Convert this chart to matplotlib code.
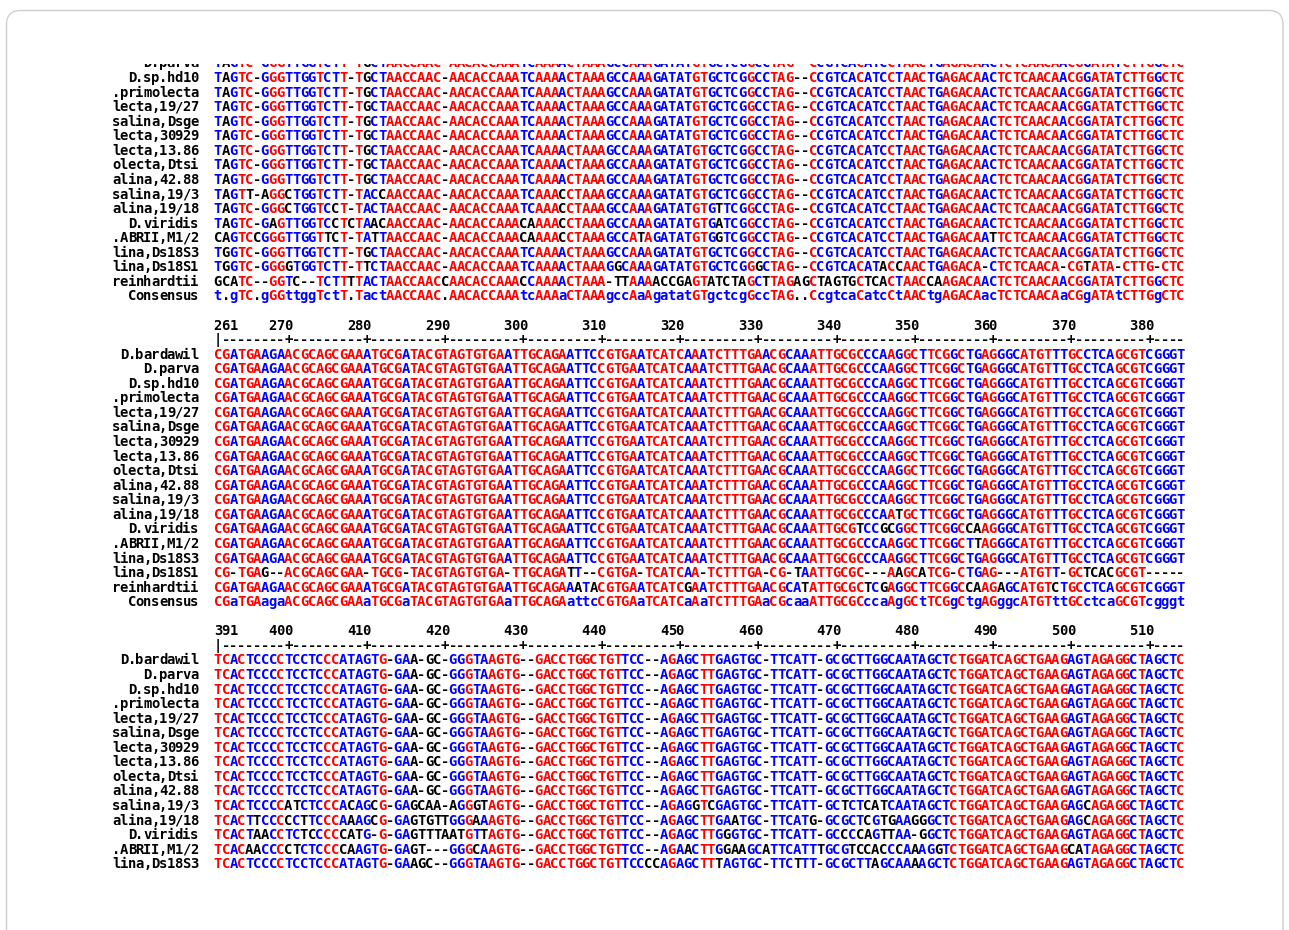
import matplotlib
matplotlib.use("Agg")
import matplotlib.pyplot as plt
from matplotlib.patches import FancyBboxPatch
from matplotlib.transforms import Bbox

# ------------------------------------------------------------------ data
seq_names = ["D.bardawil", "D.parva", "D.sp.hd10", ".primolecta", "lecta,19/27",
             "salina,Dsge", "lecta,30929", "lecta,13.86", "olecta,Dtsi",
             "alina,42.88", "salina,19/3", "alina,19/18", "D.viridis",
             ".ABRII,M1/2", "lina,Ds18S3", "lina,Ds18S1", "reinhardtii"]
consensus_label = "Consensus"

# ---- block 1 (top of block is cut off; rows from D.parva on are visible)
b1_common = ("TAGTC-GGGTTGGTCTT-TGCTAACCAAC-AACACCAAATC"
             "AAAACTAAAGCCAAAGATATGTGCTCGGCCTAG--CCGTCACA"
             "TCCTAACTGAGACAACTCTCAACAACGGATATCTTGGCTC")
block1_seqs = {
    "D.parva": b1_common,
    "D.sp.hd10": b1_common,
    ".primolecta": b1_common,
    "lecta,19/27": b1_common,
    "salina,Dsge": b1_common,
    "lecta,30929": b1_common,
    "lecta,13.86": b1_common,
    "olecta,Dtsi": b1_common,
    "alina,42.88": b1_common,
    "salina,19/3": ("TAGTT-AGGCTGGTCTT-TACCAACCAAC-AACACCAAATC"
                    "AAACCTAAAGCCAAAGATATGTGCTCGGCCTAG--CCGTCACA"
                    "TCCTAACTGAGACAACTCTCAACAACGGATATCTTGGCTC"),
    "alina,19/18": ("TAGTC-GGGCTGGTCCT-TACTAACCAAC-AACACCAAATC"
                    "AAACCTAAAGCCAAAGATATGTGTTCGGCCTAG--CCGTCACA"
                    "TCCTAACTGAGACAACTCTCAACAACGGATATCTTGGCTC"),
    "D.viridis": ("TAGTC-GAGTTGGTCCTCTAACAACCAAC-AACACCAAACA"
                  "AAACCTAAAGCCAAAGATATGTGATCGGCCTAG--CCGTCACA"
                  "TCCTAACTGAGACAACTCTCAACAACGGATATCTTGGCTC"),
    ".ABRII,M1/2": ("CAGTCCGGGTTGGTTCT-TATTAACCAAC-AACACCAAACA"
                    "AAACCTAAAGCCATAGATATGTGGTCGGCCTAG--CCGTCACA"
                    "TCCTAACTGAGACAATTCTCAACAACGGATATCTTGGCTC"),
    "lina,Ds18S3": ("TGGTC-GGGTTGGTCTT-TGCTAACCAAC-AACACCAAATC"
                    "AAAACTAAAGCCAAAGATATGTGCTCGGCCTAG--CCGTCACA"
                    "TCCTAACTGAGACAACTCTCAACAACGGATATCTTGGCTC"),
    "lina,Ds18S1": ("TGGTC-GGGGTGGTCTT-TTCTAACCAAC-AACACCAAATC"
                    "AAAACTAAAGGCAAAGATATGTGCTCGGGCTAG--CCGTCACA"
                    "TACCAACTGAGACA-CTCTCAACA-CGTATA-CTTG-CTC"),
    "reinhardtii": ("GCATC--GGTC--TCTTTTACTAACCAACCAACACCAAACC"
                    "AAAACTAAA-TTAAAACCGAGTATCTAGCTTAGAGCTAGTGCT"
                    "CACTAACCAAGACAACTCTCAACAACGGATATCTTGGCTC"),
}
block1_consensus = ("t.gTC.gGGttggTctT.TactAACCAAC.AACACCAAAtc"
                    "AAAaCTAAAgccAaAgatatGTgctcgGccTAG..CcgtcaCa"
                    "tcCtAACtgAGACAacTCTCAACAaCGgATAtCTTGgCTC")

# ---- block 2
block2_ticks = [261, 270, 280, 290, 300, 310, 320, 330, 340, 350, 360, 370, 380]
b2_common = ("CGATGAAGAACGCAGCGAAATGCGATACGTAGTGTGAATTG"
             "CAGAATTCCGTGAATCATCAAATCTTTGAACGCAAATTGCGCC"
             "CAAGGCTTCGGCTGAGGGCATGTTTGCCTCAGCGTCGGGT")
block2_seqs = {
    "D.bardawil": b2_common,
    "D.parva": b2_common,
    "D.sp.hd10": b2_common,
    ".primolecta": b2_common,
    "lecta,19/27": b2_common,
    "salina,Dsge": b2_common,
    "lecta,30929": b2_common,
    "lecta,13.86": b2_common,
    "olecta,Dtsi": b2_common,
    "alina,42.88": b2_common,
    "salina,19/3": b2_common,
    "alina,19/18": ("CGATGAAGAACGCAGCGAAATGCGATACGTAGTGTGAATTG"
                    "CAGAATTCCGTGAATCATCAAATCTTTGAACGCAAATTGCGCC"
                    "CAATGCTTCGGCTGAGGGCATGTTTGCCTCAGCGTCGGGT"),
    "D.viridis": ("CGATGAAGAACGCAGCGAAATGCGATACGTAGTGTGAATTG"
                  "CAGAATTCCGTGAATCATCAAATCTTTGAACGCAAATTGCGTC"
                  "CGCGGCTTCGGCCAAGGGCATGTTTGCCTCAGCGTCGGGT"),
    ".ABRII,M1/2": ("CGATGAAGAACGCAGCGAAATGCGATACGTAGTGTGAATTG"
                    "CAGAATTCCGTGAATCATCAAATCTTTGAACGCAAATTGCGCC"
                    "CAAGGCTTCGGCTTAGGGCATGTTTGCCTCAGCGTCGGGT"),
    "lina,Ds18S3": b2_common,
    "lina,Ds18S1": ("CG-TGAG--ACGCAGCGAA-TGCG-TACGTAGTGTGA-TTG"
                    "CAGATT--CGTGA-TCATCAA-TCTTTGA-CG-TAATTGCGC-"
                    "--AAGCATCG-CTGAG---ATGTT-GCTCACGCGT-----"),
    "reinhardtii": ("CGATGAAGAACGCAGCGAAATGCGATACGTAGTGTGAATTG"
                    "CAGAAATACGTGAATCATCGAATCTTTGAACGCATATTGCGCT"
                    "CGAGGCTTCGGCCAAGAGCATGTCTGCCTCAGCGTCGGGT"),
}
block2_consensus = ("CGaTGAagaACGCAGCGAAaTGCGaTACGTAGTGTGAaTTG"
                    "CAGAattcCGTGAaTCATCaAaTCTTTGAaCGcaaATTGCGCc"
                    "caAgGCtTCGgCtgAGggcATGTttGCctcaGCGTcgggt")

# ---- block 3 (bottom of block is cut off after lina,Ds18S3)
block3_ticks = [391, 400, 410, 420, 430, 440, 450, 460, 470, 480, 490, 500, 510]
b3_common = ("TCACTCCCCTCCTCCCATAGTG-GAA-GC-GGGTAAGTG--"
             "GACCTGGCTGTTCC--AGAGCTTGAGTGC-TTCATT-GCGCTT"
             "GGCAATAGCTCTGGATCAGCTGAAGAGTAGAGGCTAGCTC")
block3_seqs = {
    "D.bardawil": b3_common,
    "D.parva": b3_common,
    "D.sp.hd10": b3_common,
    ".primolecta": b3_common,
    "lecta,19/27": b3_common,
    "salina,Dsge": b3_common,
    "lecta,30929": b3_common,
    "lecta,13.86": b3_common,
    "olecta,Dtsi": b3_common,
    "alina,42.88": b3_common,
    "salina,19/3": ("TCACTCCCCATCTCCCACAGCG-GAGCAA-AGGGTAGTG--"
                    "GACCTGGCTGTTCC--AGAGGTCGAGTGC-TTCATT-GCTCTC"
                    "ATCAATAGCTCTGGATCAGCTGAAGAGCAGAGGCTAGCTC"),
    "alina,19/18": ("TCACTTCCCCCTTCCCAAAGCG-GAGTGTTGGGAAAGTG--"
                    "GACCTGGCTGTTCC--AGAGCTTGAATGC-TTCATG-GCGCTC"
                    "GTGAAGGGCTCTGGATCAGCTGAAGAGCAGAGGCTAGCTC"),
    "D.viridis": ("TCACTAACCTCTCCCCCATG-G-GAGTTTAATGTTAGTG--"
                  "GACCTGGCTGTTCC--AGAGCTTGGGTGC-TTCATT-GCCCCA"
                  "GTTAA-GGCTCTGGATCAGCTGAAGAGTAGAGGCTAGCTC"),
    ".ABRII,M1/2": ("TCACAACCCCTCTCCCCAAGTG-GAGT---GGGCAAGTG--"
                    "GACCTGGCTGTTCC--AGAACTTGGAAGCATTCATTTGCGTCC"
                    "ACCCAAAGGTCTGGATCAGCTGAAGCATAGAGGCTAGCTC"),
    "lina,Ds18S3": ("TCACTCCCCTCCTCCCATAGTG-GAAGC--GGGTAAGTG--"
                    "GACCTGGCTGTTCCCCAGAGCTTTAGTGC-TTCTTT-GCGCTT"
                    "AGCAAAAGCTCTGGATCAGCTGAAGAGTAGAGGCTAGCTC"),
}
# consensus of block 3 lies below the visible area; it only sets the colours
block3_consensus = ("TCaCtcccCtcctcCCatagtG.ga.....ggGtaAGTG.."
                    "GACCTGGCTGTtcc..aGagcTTgagtgc.ttcatt.gcgctt"
                    "ggcaatagctCTGGATCAGCTGAAGagtAGAGGcTagctC")

# ------------------------------------------------------------------ layout / style
W, H = 1289, 930
X0 = 214.0          # left edge of alignment column 1 (px)
PITCH = 7.827       # character pitch (px)
Y0 = 18.76          # centre of first text line of block 1 (px)
LINE = 14.56        # line pitch (px)
FS = 10.0           # font size (pt)
CAP_HALF = 5.05     # half cap height (px)
RED, BLUE, BLACK = "#ff0000", "#0000ff", "#000000"
FONT = dict(family="DejaVu Sans Mono", weight="bold", size=FS)
NCOL = 124

fig = plt.figure(figsize=(W / 100, H / 100), dpi=100)
ax = fig.add_axes([0, 0, 1, 1])
ax.set_xlim(0, W)
ax.set_ylim(H, 0)
ax.axis("off")

frame = FancyBboxPatch((6.5, 10.5), 1276.5, 960, boxstyle="round,pad=0,rounding_size=14",
                       ec="#cfcfcf", fc="white", lw=1.0, zorder=0)
ax.add_patch(frame)

# visible window of the alignment picture, in display pixels (origin bottom-left)
visible = Bbox([[0, H - 872.0], [W, H - 63.5]])


def put_chars(col0, line, s, colours):
    """Draw string s one character per alignment cell, starting at 0-based column col0."""
    y = Y0 + line * LINE + CAP_HALF
    for i, ch in enumerate(s):
        if ch == " ":
            continue
        x = X0 + (col0 + i + 0.5) * PITCH
        t = ax.text(x, y, ch, color=colours[i], ha="center", va="baseline",
                    zorder=2, **FONT)
        t.set_clip_path(None)
        t.set_clip_box(visible)
        t.set_clip_on(True)


def colour(ch, cons):
    if cons == "." or ch.upper() != cons.upper():
        return BLACK
    return RED if cons.isupper() else BLUE


def cons_colour(ch):
    if ch.isalpha():
        return RED if ch.isupper() else BLUE
    return BLACK


def put_plain(col0, line, s):
    put_chars(col0, line, s, [BLACK] * len(s))


def put_name(line, name):
    put_plain(-2 - len(name), line, name)


def draw_block(first_line, seqs, consensus, ticks, show_consensus):
    if ticks is not None:
        put_plain(0, first_line, str(ticks[0]))
        for v in ticks[1:]:
            c = v - ticks[0] + 1           # 1-based column of this position
            put_plain(c - len(str(v)), first_line, str(v))
        rule = "".join("|" if c == 1 else ("+" if c % 10 == 0 else "-")
                       for c in range(1, NCOL + 1))
        put_plain(0, first_line + 1, rule)
    for idx, name in enumerate(seq_names):
        if name not in seqs:
            continue
        line = first_line + 2 + idx
        seq = seqs[name]
        put_name(line, name)
        put_chars(0, line, seq, [colour(a, b) for a, b in zip(seq, consensus)])
    if show_consensus:
        line = first_line + 2 + len(seq_names)
        put_name(line, consensus_label)
        put_chars(0, line, consensus, [cons_colour(a) for a in consensus])


draw_block(0, block1_seqs, block1_consensus, None, True)
draw_block(21, block2_seqs, block2_consensus, block2_ticks, True)
draw_block(42, block3_seqs, block3_consensus, block3_ticks, False)

fig.savefig("out.png", dpi=100)
